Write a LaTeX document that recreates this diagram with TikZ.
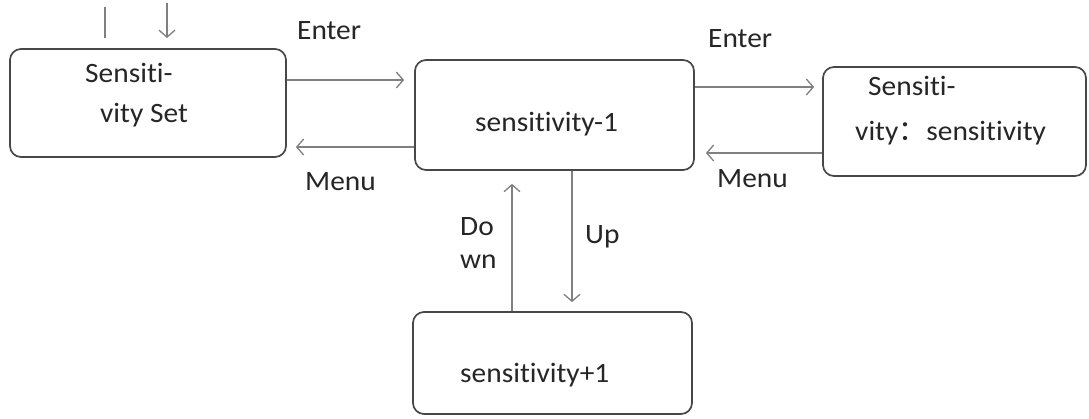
\documentclass[tikz,border=0pt]{standalone}
\usepackage{fontspec}
\setmainfont{Carlito}[FakeStretch=1.05,Ligatures=NoCommon]
\newfontfamily\cjk{Noto Sans CJK SC}
\usetikzlibrary{arrows.meta}
\begin{document}
\begin{tikzpicture}[x=1pt,y=-1pt,
  box/.style={draw=black!72,line width=1.7pt,rounded corners=11pt,inner sep=0pt},
  txt/.style={anchor=base west,inner sep=0pt,font=\fontsize{28}{32}\selectfont,text=black!85},
  conn/.style={draw=black!50,line width=1.5pt},
  arr/.style={conn,-{Straight Barb[length=7pt,width=16pt,line width=1.3pt]}}]
\useasboundingbox[fill=white] (0,0) rectangle (1089,418);
% boxes
\node[box,minimum width=276pt,minimum height=108pt] (A) at (148,103) {};
\node[box,minimum width=279pt,minimum height=110pt] (B) at (554.5,115) {};
\node[box,minimum width=263pt,minimum height=109pt] (C) at (954.5,121.5) {};
\node[box,minimum width=279pt,minimum height=102pt] (D) at (552.5,363) {};
% texts
\node[txt] (a1) at (85,82) {Sensiti-};
\node[txt] (a2) at (100,122) {vity Set};
\node[txt] (b1) at (475,131) {sensitivity-1};
\node[txt] (c1) at (868,95) {Sensiti-};
\node[txt] (c2) at (855,140) {vity{\cjk ：}sensitivity};
\node[txt] (d1) at (460,382) {sensitivity+1};
\node[txt] (e1) at (297,39) {Enter};
\node[txt] (m1) at (305,190) {Menu};
\node[txt] (e2) at (708,47) {Enter};
\node[txt] (m2) at (717,187) {Menu};
\node[txt] (do) at (460,235) {Do};
\node[txt] (wn) at (460,268) {wn};
\node[txt] (up) at (585,243) {Up};
% free ends at top left
\coordinate (t1) at (105,7);
\coordinate (t2) at (105,38);
\coordinate (t3) at (167,3);
\coordinate (t4) at (167,38);
\draw[conn] (t1) -- (t2);
\draw[arr] (t3) -- (t4);
% connectors
\draw[arr,shorten >=10pt] (A.east |- 0,80) -- (B.west |- 0,80);
\draw[arr,shorten >=9pt] (B.west |- 0,147) -- (A.east |- 0,147);
\draw[arr,shorten >=8pt] (B.east |- 0,87) -- (C.west |- 0,87);
\draw[arr,shorten >=11pt] (C.west |- 0,153) -- (B.east |- 0,153);
\draw[arr,shorten >=9pt] (B.south -| 572,0) -- (D.north -| 572,0);
\draw[arr,shorten >=13pt] (D.north -| 512,0) -- (B.south -| 512,0);
\end{tikzpicture}
\end{document}
